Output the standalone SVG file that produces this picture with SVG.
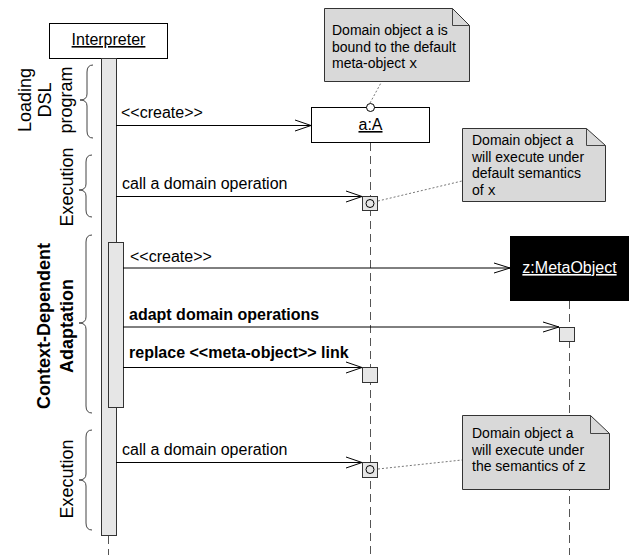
<svg xmlns="http://www.w3.org/2000/svg" width="633" height="555" viewBox="0 0 633 555">
<style>
text{font-family:"Liberation Sans",Arial,sans-serif;fill:#000}
.lbl{font-size:16px}
.b{font-weight:bold}
.rot{font-size:18px;text-anchor:middle}
.note{font-size:14px}
.mono{font-family:"Liberation Mono","Courier New",monospace}
.life{stroke:#555;stroke-width:1;stroke-dasharray:8,5;fill:none}
.act{fill:#e6e6e6;stroke:#333;stroke-width:1}
.msg{stroke:#000;stroke-width:1;fill:none}
.head{stroke:#000;stroke-width:1;fill:none}
.dot{stroke:#777;stroke-width:1;stroke-dasharray:2,2;fill:none}
.brace{stroke:#444;stroke-width:1;fill:none}
.notebox{fill:#d9d9d9;stroke:#333;stroke-width:1}
</style>
<g id="lifelines">
<line class="life" x1="108.5" y1="536" x2="108.5" y2="555"/>
<line class="life" x1="370.5" y1="143" x2="370.5" y2="555"/>
<line class="life" x1="569.5" y1="301" x2="569.5" y2="555"/>
</g>
<g id="interpreter">
<rect x="49.5" y="23.5" width="118" height="35" fill="#fff" stroke="#000"/>
<text class="lbl" x="108.5" y="45" text-anchor="middle" text-decoration="underline">Interpreter</text>
<rect class="act" x="101.5" y="58.5" width="15" height="477"/>
<rect class="act" x="108.5" y="242.5" width="15" height="165"/>
</g>
<g id="aA">
<rect x="311.5" y="107.5" width="118" height="35" fill="#fff" stroke="#000"/>
<text class="lbl" x="370.5" y="130" text-anchor="middle" text-decoration="underline">a:A</text>
<circle cx="370.5" cy="107.5" r="4" fill="#fff" stroke="#000"/>
<rect class="act" x="362.5" y="196.5" width="15" height="14"/>
<circle cx="370" cy="203.5" r="4" fill="none" stroke="#000"/>
<rect class="act" x="362.5" y="367.5" width="15" height="15"/>
<rect class="act" x="362.5" y="462.5" width="15" height="15"/>
<circle cx="370" cy="469.5" r="4" fill="none" stroke="#000"/>
</g>
<g id="zMeta">
<rect x="510" y="236" width="119" height="65" fill="#000"/>
<text class="lbl" x="569.5" y="273" text-anchor="middle" text-decoration="underline" style="fill:#fff">z:MetaObject</text>
<rect class="act" x="559.5" y="327.5" width="15" height="14"/>
</g>
<g id="connectors">
<line class="msg" x1="116" y1="125.5" x2="311" y2="125.5"/>
<polyline class="head" points="295,120 311,125.5 295,131"/>
<line class="msg" x1="116" y1="196.5" x2="362" y2="196.5"/>
<polyline class="head" points="346,191 362,196.5 346,202"/>
<line class="msg" x1="123" y1="268" x2="510" y2="268"/>
<polyline class="head" points="494,263 510,268 494,273"/>
<line class="msg" x1="123" y1="327" x2="559" y2="327"/>
<polyline class="head" points="543,322 559,327 543,332"/>
<line class="msg" x1="123" y1="367.5" x2="362" y2="367.5"/>
<polyline class="head" points="346,362 362,367.5 346,373"/>
<line class="msg" x1="116" y1="462.5" x2="362" y2="462.5"/>
<polyline class="head" points="346,457 362,462.5 346,468"/>
<line class="dot" x1="370" y1="103" x2="382" y2="81"/>
<line class="dot" x1="378" y1="201" x2="462" y2="181"/>
<line class="dot" x1="378" y1="469" x2="462" y2="460"/>
</g>
<g id="msglabels">
<text class="lbl" x="121" y="118">&lt;&lt;create&gt;&gt;</text>
<text class="lbl" x="122" y="189">call a domain operation</text>
<text class="lbl" x="130" y="262">&lt;&lt;create&gt;&gt;</text>
<text class="lbl b" x="129" y="320">adapt domain operations</text>
<text class="lbl b" x="129" y="358">replace &lt;&lt;meta-object&gt;&gt; link</text>
<text class="lbl" x="122" y="455">call a domain operation</text>
</g>
<g id="phase-loading">
<path class="brace" d="M93,65 Q87,65 87,72 L87,94 Q87,100 80,100 Q87,100 87,106 L87,131 Q87,138 93,138"/>
<text class="rot" transform="translate(31,100) rotate(-90)">Loading</text>
<text class="rot" transform="translate(51,100) rotate(-90)">DSL</text>
<text class="rot" transform="translate(72,100) rotate(-90)">program</text>
</g>
<g id="phase-exec1">
<path class="brace" d="M92,155 Q86,155 86,162 L86,184 Q86,190 79,190 Q86,190 86,196 L86,210 Q86,217 92,217"/>
<text class="rot" transform="translate(73,187) rotate(-90)">Execution</text>
</g>
<g id="phase-adapt">
<path class="brace" d="M92,235 Q86,235 86,242 L86,317 Q86,323 79,323 Q86,323 86,329 L86,406 Q86,413 92,413"/>
<text class="rot b" transform="translate(50,326) rotate(-90)">Context-Dependent</text>
<text class="rot b" transform="translate(73,326) rotate(-90)">Adaptation</text>
</g>
<g id="phase-exec2">
<path class="brace" d="M92,430 Q86,430 86,437 L86,474 Q86,480 79,480 Q86,480 86,486 L86,523 Q86,530 92,530"/>
<text class="rot" transform="translate(73,479) rotate(-90)">Execution</text>
</g>
<g id="note1">
<path class="notebox" d="M324.5,8.5 H452.5 L469.5,25.5 V81.5 H324.5 Z"/>
<path class="brace" d="M452.5,8.5 V25.5 H469.5" stroke="#333"/>
<text class="note" x="332" y="35">Domain object <tspan class="mono">a</tspan> is</text>
<text class="note" x="332" y="51.5">bound to the default</text>
<text class="note" x="332" y="68">meta-object <tspan class="mono">x</tspan></text>
</g>
<g id="note2">
<path class="notebox" d="M462.5,128.5 H586.5 L605.5,145.5 V201.5 H462.5 Z"/>
<path class="brace" d="M586.5,128.5 V145.5 H605.5" stroke="#333"/>
<text class="note" x="472" y="145">Domain object <tspan class="mono">a</tspan></text>
<text class="note" x="472" y="161.5">will execute under</text>
<text class="note" x="472" y="178">default semantics</text>
<text class="note" x="472" y="194.5">of <tspan class="mono">x</tspan></text>
</g>
<g id="note3">
<path class="notebox" d="M462.5,415.5 H590.5 L609.5,433.5 V489.5 H462.5 Z"/>
<path class="brace" d="M590.5,415.5 V433.5 H609.5" stroke="#333"/>
<text class="note" x="472" y="438">Domain object <tspan class="mono">a</tspan></text>
<text class="note" x="472" y="454.5">will execute under</text>
<text class="note" x="472" y="471">the semantics of <tspan class="mono">z</tspan></text>
</g>
</svg>
